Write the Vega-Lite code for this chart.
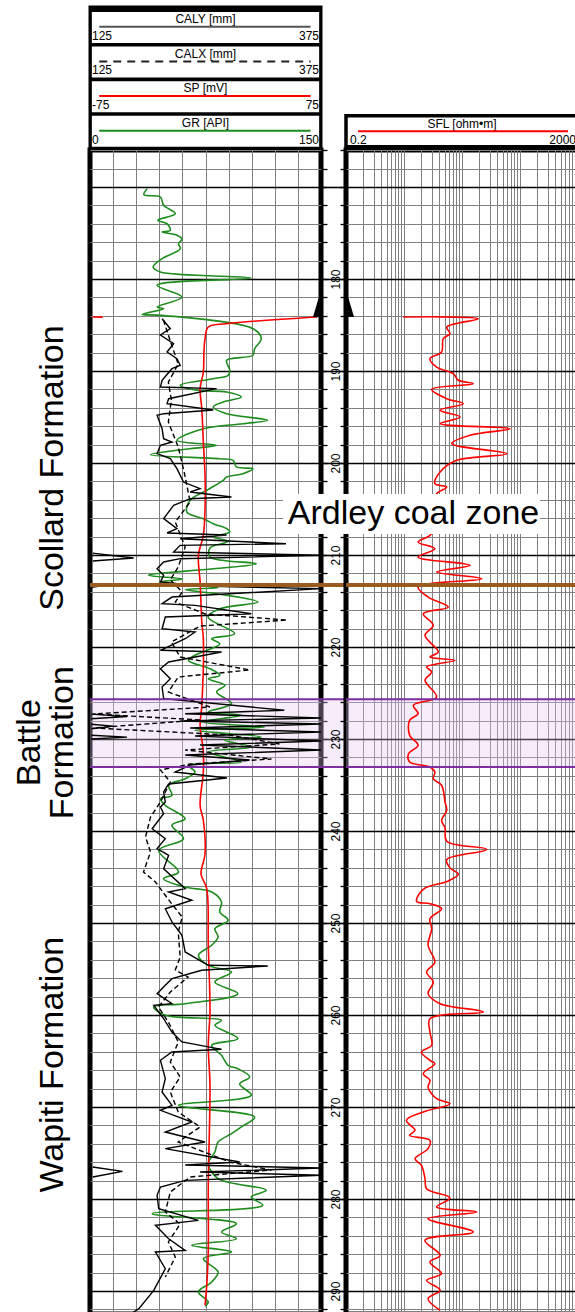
{
"$schema":"https://vega.github.io/schema/vega-lite/v6.json",
"background":"white",
"padding":{"left":0,"top":5,"right":0,"bottom":0},
"spacing":0,
"bounds":"flush",
"align":"each",
"columns":4,
"config":{"view":{"stroke":null},"font":"Liberation Sans","text":{"font":"Liberation Sans"},"axis":{"labelFont":"Liberation Sans"}},
"datasets":{
"gr":[{"d":170.2,"v":37.1},{"d":170.84,"v":35.0},{"d":171.09,"v":45.7},{"d":171.99,"v":47.8},{"d":172.9,"v":55.4},{"d":173.62,"v":44.0},{"d":173.99,"v":50.0},{"d":174.71,"v":52.1},{"d":174.89,"v":46.8},{"d":175.25,"v":56.5},{"d":175.68,"v":59.7},{"d":176.16,"v":57.5},{"d":176.71,"v":58.6},{"d":177.79,"v":46.8},{"d":178.7,"v":41.0},{"d":179.24,"v":45.7},{"d":179.89,"v":104.7},{"d":180.68,"v":43.6},{"d":181.96,"v":59.7},{"d":183.04,"v":43.6},{"d":183.23,"v":47.8},{"d":183.84,"v":33.9},{"d":183.95,"v":46.8},{"d":185.4,"v":105.8},{"d":186.49,"v":111.2},{"d":187.58,"v":106.9},{"d":188.29,"v":105.8},{"d":188.84,"v":88.7},{"d":189.92,"v":90.8},{"d":190.47,"v":89.7},{"d":190.84,"v":80.0},{"d":191.55,"v":58.6},{"d":192.1,"v":69.3},{"d":192.28,"v":88.7},{"d":192.83,"v":98.3},{"d":193.37,"v":86.5},{"d":193.91,"v":80.0},{"d":194.64,"v":88.7},{"d":195.36,"v":115.4},{"d":195.73,"v":99.3},{"d":196.27,"v":73.6},{"d":197.53,"v":56.5},{"d":198.08,"v":82.2},{"d":198.45,"v":65.0},{"d":199.1,"v":39.3},{"d":199.53,"v":84.3},{"d":199.71,"v":92.9},{"d":200.43,"v":95.1},{"d":200.62,"v":105.8},{"d":201.16,"v":99.3},{"d":201.52,"v":88.7},{"d":201.88,"v":86.5},{"d":202.97,"v":75.8},{"d":204.05,"v":65.0},{"d":205.33,"v":62.9},{"d":206.05,"v":73.6},{"d":206.6,"v":80.0},{"d":207.14,"v":88.7},{"d":207.5,"v":90.8},{"d":208.04,"v":80.0},{"d":208.51,"v":89.7},{"d":209.24,"v":77.9},{"d":210.22,"v":77.9},{"d":210.95,"v":108.0},{"d":211.5,"v":80.0},{"d":212.2,"v":38.0},{"d":212.6,"v":60.0},{"d":212.93,"v":45.0},{"d":213.3,"v":70.0},{"d":213.55,"v":83.0},{"d":213.75,"v":62.0},{"d":214.24,"v":83.2},{"d":215.11,"v":109.0},{"d":215.84,"v":84.3},{"d":216.74,"v":76.6},{"d":218.55,"v":94.0},{"d":219.1,"v":79.0},{"d":219.64,"v":84.3},{"d":220.9,"v":68.2},{"d":221.45,"v":63.9},{"d":222.36,"v":77.9},{"d":223.08,"v":84.3},{"d":223.45,"v":76.8},{"d":224.16,"v":87.6},{"d":224.89,"v":82.2},{"d":226.16,"v":91.9},{"d":227.07,"v":76.8},{"d":227.42,"v":98.3},{"d":228.15,"v":72.6},{"d":228.7,"v":113.3},{"d":229.05,"v":68.2},{"d":229.78,"v":111.2},{"d":230.14,"v":87.6},{"d":230.87,"v":104.7},{"d":231.41,"v":76.8},{"d":232.5,"v":98.3},{"d":232.86,"v":63.9},{"d":233.59,"v":68.2},{"d":234.32,"v":61.8},{"d":235.03,"v":51.1},{"d":236.12,"v":53.2},{"d":236.49,"v":45.7},{"d":237.21,"v":48.9},{"d":238.66,"v":61.8},{"d":239.38,"v":53.2},{"d":240.84,"v":60.7},{"d":242.1,"v":44.6},{"d":244.46,"v":57.5},{"d":245.18,"v":47.8},{"d":246.09,"v":61.8},{"d":246.63,"v":79.0},{"d":247.72,"v":85.4},{"d":248.8,"v":84.3},{"d":249.71,"v":89.7},{"d":250.62,"v":81.1},{"d":251.52,"v":83.2},{"d":252.42,"v":79.0},{"d":253.51,"v":70.4},{"d":254.6,"v":76.8},{"d":255.33,"v":91.9},{"d":256.41,"v":81.1},{"d":257.68,"v":96.1},{"d":258.77,"v":61.8},{"d":259.13,"v":41.4},{"d":260.03,"v":48.9},{"d":260.58,"v":85.4},{"d":261.12,"v":81.1},{"d":262.58,"v":96.1},{"d":263.29,"v":79.0},{"d":264.38,"v":85.4},{"d":265.47,"v":89.7},{"d":265.84,"v":96.1},{"d":266.74,"v":103.7},{"d":267.5,"v":97.2},{"d":268.73,"v":104.7},{"d":269.82,"v":57.5},{"d":271.09,"v":106.9},{"d":272.17,"v":98.3},{"d":272.9,"v":91.9},{"d":273.8,"v":83.2},{"d":274.89,"v":81.1},{"d":276.16,"v":76.8},{"d":277.79,"v":83.2},{"d":279.05,"v":114.4},{"d":279.78,"v":104.7},{"d":280.68,"v":112.2},{"d":281.6,"v":40.4},{"d":282.68,"v":95.1},{"d":283.59,"v":85.4},{"d":284.32,"v":95.1},{"d":285.03,"v":66.1},{"d":285.76,"v":91.9},{"d":286.49,"v":73.6},{"d":287.93,"v":83.2},{"d":289.02,"v":79.0},{"d":290.11,"v":70.4},{"d":291.2,"v":76.8},{"d":291.63,"v":74.7}],
"sp":[{"d":184.13,"v":72.6},{"d":184.86,"v":13.6},{"d":185.22,"v":1.8},{"d":186.49,"v":-0.3},{"d":187.93,"v":-1.0},{"d":190.11,"v":-1.4},{"d":191.92,"v":-3.5},{"d":194.1,"v":-2.4},{"d":197.72,"v":-1.4},{"d":201.34,"v":-0.3},{"d":204.97,"v":-0.3},{"d":207.86,"v":-1.4},{"d":210.03,"v":-4.6},{"d":212.93,"v":-3.5},{"d":217.28,"v":-2.4},{"d":219.1,"v":-1.4},{"d":226.34,"v":-2.4},{"d":228.51,"v":-3.5},{"d":231.41,"v":-1.4},{"d":233.59,"v":-1.4},{"d":237.21,"v":-3.5},{"d":238.84,"v":-1.4},{"d":242.5,"v":-0.3},{"d":244.67,"v":-2.9},{"d":246.27,"v":0.8},{"d":252.42,"v":1.8},{"d":259.67,"v":2.9},{"d":263.29,"v":1.8},{"d":267.64,"v":2.9},{"d":278.51,"v":1.8},{"d":285.76,"v":1.8},{"d":289.38,"v":0.8},{"d":291.55,"v":-0.3}],
"spw":[{"d":184.13,"v":-73.3},{"d":184.14,"v":-66.8}],
"caly":[{"d":184.32,"v":203.0},{"d":185.4,"v":211.9},{"d":186.09,"v":201.2},{"d":187.03,"v":215.5},{"d":187.93,"v":208.4},{"d":188.66,"v":219.1},{"d":189.38,"v":222.6},{"d":189.75,"v":213.7},{"d":191.01,"v":203.0},{"d":191.74,"v":201.2},{"d":191.92,"v":262.0},{"d":193.01,"v":210.1},{"d":193.55,"v":208.4},{"d":194.24,"v":258.4},{"d":194.64,"v":204.7},{"d":194.82,"v":197.6},{"d":196.27,"v":203.0},{"d":197.36,"v":204.7},{"d":197.72,"v":213.7},{"d":198.08,"v":201.2},{"d":198.99,"v":197.6},{"d":199.53,"v":211.9},{"d":200.62,"v":219.1},{"d":202.07,"v":226.2},{"d":202.79,"v":244.1},{"d":203.15,"v":233.4},{"d":203.7,"v":278.1},{"d":203.88,"v":233.4},{"d":204.6,"v":215.5},{"d":206.05,"v":204.7},{"d":207.14,"v":219.1},{"d":207.61,"v":208.4},{"d":207.83,"v":272.8},{"d":208.23,"v":222.6},{"d":208.77,"v":337.1},{"d":208.95,"v":222.6},{"d":209.67,"v":215.5},{"d":210.03,"v":375},{"d":210.4,"v":222.6},{"d":210.76,"v":204.7},{"d":211.49,"v":197.6},{"d":212.21,"v":204.7},{"d":212.93,"v":201.2},{"d":213.37,"v":244.1},{"d":213.66,"v":375},{"d":214.57,"v":213.7},{"d":215.29,"v":203.0},{"d":215.47,"v":238.7},{"d":216.38,"v":299.6},{"d":216.74,"v":206.5},{"d":218.01,"v":203.0},{"d":218.37,"v":238.7},{"d":219.1,"v":228.0},{"d":220.36,"v":201.2},{"d":220.54,"v":267.4},{"d":221.63,"v":210.1},{"d":222.36,"v":201.2},{"d":223.45,"v":211.9},{"d":224.35,"v":203.0},{"d":225.62,"v":204.7},{"d":226.88,"v":335.3},{"d":227.25,"v":228.0},{"d":227.72,"v":375},{"d":228.04,"v":222.6},{"d":228.37,"v":375},{"d":228.8,"v":233.4},{"d":229.24,"v":375},{"d":229.67,"v":238.7},{"d":230.22,"v":375},{"d":230.65,"v":244.1},{"d":231.2,"v":375},{"d":231.74,"v":228.0},{"d":232.28,"v":297.8},{"d":232.83,"v":233.4},{"d":233.59,"v":217.3},{"d":234.24,"v":273.1},{"d":234.89,"v":210.1},{"d":235.76,"v":204.7},{"d":236.85,"v":206.5},{"d":237.39,"v":201.2},{"d":238.12,"v":204.7},{"d":239.75,"v":192.3},{"d":240.84,"v":206.5},{"d":241.92,"v":197.6},{"d":242.64,"v":210.1},{"d":244.1,"v":204.7},{"d":246.27,"v":228.0},{"d":246.63,"v":210.1},{"d":247.53,"v":235.2},{"d":248.45,"v":206.5},{"d":249.89,"v":213.7},{"d":251.34,"v":224.5},{"d":253.15,"v":228.0},{"d":254.6,"v":253.0},{"d":254.67,"v":317.4},{"d":255.14,"v":245.9},{"d":256.05,"v":213.7},{"d":256.77,"v":206.5},{"d":257.68,"v":197.6},{"d":258.77,"v":213.7},{"d":258.95,"v":194.0},{"d":260.4,"v":204.7},{"d":261.85,"v":213.7},{"d":262.93,"v":224.5},{"d":263.73,"v":267.4},{"d":264.02,"v":213.7},{"d":264.92,"v":201.2},{"d":266.92,"v":206.5},{"d":268.37,"v":203.0},{"d":269.82,"v":213.7},{"d":270.36,"v":201.2},{"d":271.63,"v":235.2},{"d":272.72,"v":206.5},{"d":273.8,"v":249.5},{"d":274.53,"v":206.5},{"d":275.98,"v":287.0},{"d":276.3,"v":228.0},{"d":276.63,"v":375},{"d":277.07,"v":244.1},{"d":277.42,"v":375},{"d":277.97,"v":228.0},{"d":278.7,"v":201.2},{"d":279.6,"v":197.6},{"d":281.05,"v":199.4},{"d":282.32,"v":242.3},{"d":282.86,"v":195.8},{"d":284.32,"v":210.1},{"d":285.58,"v":228.0},{"d":285.76,"v":195.8},{"d":287.58,"v":206.5},{"d":289.93,"v":194.0},{"d":291.92,"v":177.9},{"d":292.5,"v":169.0}],
"calyw":[{"seg":"a","d":209.8,"v":127.9},{"seg":"a","d":210.33,"v":172.2},{"seg":"a","d":210.65,"v":127.9},{"seg":"b","d":213.3,"v":126.5},{"seg":"b","d":213.4,"v":134},{"seg":"b","d":213.5,"v":126.5},{"seg":"c","d":227.3,"v":126.5},{"seg":"c","d":227.55,"v":165},{"seg":"c","d":227.8,"v":126.5},{"seg":"d","d":228.4,"v":126.5},{"seg":"d","d":228.6,"v":150},{"seg":"d","d":228.9,"v":126.5},{"seg":"e","d":229.6,"v":126.5},{"seg":"e","d":229.8,"v":165},{"seg":"e","d":230.0,"v":126.5},{"seg":"f","d":276.52,"v":127.9},{"seg":"f","d":277.0,"v":160.1},{"seg":"f","d":277.61,"v":127.9}],
"calx":[{"d":184.46,"v":204.4},{"d":187.39,"v":214.1},{"d":189.24,"v":220.5},{"d":191.2,"v":209.8},{"d":193.15,"v":213.1},{"d":195.54,"v":209.8},{"d":198.26,"v":220.5},{"d":200.98,"v":226.9},{"d":204.24,"v":233.4},{"d":206.41,"v":217.3},{"d":209.13,"v":228.0},{"d":211.3,"v":220.5},{"d":212.71,"v":211.9},{"d":214.02,"v":224.8},{"d":215.11,"v":217.3},{"d":216.41,"v":249.5},{"d":217.07,"v":338.5},{"d":217.72,"v":244.1},{"d":219.46,"v":213.1},{"d":221.09,"v":222.6},{"d":222.5,"v":297.8},{"d":223.26,"v":220.5},{"d":224.89,"v":209.8},{"d":226.52,"v":254.8},{"d":227.28,"v":128.2},{"d":227.93,"v":244.1},{"d":228.8,"v":128.2},{"d":229.57,"v":276.3},{"d":230.54,"v":330.0},{"d":231.2,"v":228.0},{"d":232.17,"v":321.4},{"d":232.72,"v":233.4},{"d":233.37,"v":201.2},{"d":234.67,"v":211.9},{"d":236.85,"v":201.2},{"d":238.48,"v":190.5},{"d":240.65,"v":185.1},{"d":242.28,"v":190.5},{"d":244.46,"v":182.9},{"d":245.54,"v":195.8},{"d":247.72,"v":211.9},{"d":249.35,"v":224.8},{"d":250.98,"v":220.5},{"d":253.7,"v":222.6},{"d":255.11,"v":217.3},{"d":255.87,"v":231.2},{"d":257.5,"v":211.9},{"d":259.13,"v":199.0},{"d":260.76,"v":209.8},{"d":262.93,"v":220.5},{"d":265.11,"v":211.9},{"d":266.74,"v":222.6},{"d":268.37,"v":211.9},{"d":270.54,"v":220.5},{"d":272.17,"v":244.1},{"d":273.8,"v":220.5},{"d":275.98,"v":276.3},{"d":276.85,"v":321.4},{"d":277.61,"v":233.4},{"d":279.24,"v":211.9},{"d":281.41,"v":206.5},{"d":282.72,"v":222.6},{"d":284.67,"v":209.8},{"d":286.3,"v":217.3},{"d":288.48,"v":206.5}],
"sfl":[{"d":184.13,"v":1.94},{"d":184.32,"v":38.2},{"d":185.22,"v":10.9},{"d":185.95,"v":12.4},{"d":186.49,"v":9.5},{"d":187.93,"v":8.9},{"d":188.66,"v":5.6},{"d":189.57,"v":7.3},{"d":190.29,"v":14.2},{"d":191.01,"v":17.3},{"d":191.38,"v":31.3},{"d":191.99,"v":6.0},{"d":193.01,"v":10.9},{"d":193.55,"v":21.0},{"d":194.27,"v":8.4},{"d":195.0,"v":18.5},{"d":195.73,"v":8.4},{"d":196.27,"v":134.5},{"d":196.99,"v":27.5},{"d":197.9,"v":13.3},{"d":198.99,"v":118},{"d":199.71,"v":16.2},{"d":200.98,"v":8.4},{"d":202.25,"v":6.8},{"d":202.61,"v":10.9},{"d":203.34,"v":7.3},{"d":204.78,"v":6.1},{"d":206.41,"v":7.7},{"d":207.86,"v":5.6},{"d":208.59,"v":3.5},{"d":209.32,"v":6.8},{"d":210.22,"v":3.5},{"d":211.12,"v":27.5},{"d":211.85,"v":7.3},{"d":212.58,"v":43.7},{"d":213.48,"v":3.5},{"d":214.57,"v":5.2},{"d":215.65,"v":11.6},{"d":216.38,"v":4.3},{"d":217.64,"v":6.4},{"d":218.73,"v":4.6},{"d":220.54,"v":7.8},{"d":221.09,"v":5.6},{"d":221.45,"v":15.1},{"d":222.17,"v":4.9},{"d":222.72,"v":6.0},{"d":223.62,"v":4.6},{"d":225.43,"v":7.3},{"d":226.34,"v":2.9},{"d":227.25,"v":3.5},{"d":227.97,"v":2.5},{"d":229.6,"v":2.5},{"d":230.68,"v":3.5},{"d":231.6,"v":2.4},{"d":232.5,"v":2.5},{"d":233.04,"v":5.6},{"d":233.59,"v":6.8},{"d":234.32,"v":6.4},{"d":235.03,"v":8.9},{"d":236.85,"v":10.2},{"d":237.75,"v":10.9},{"d":238.84,"v":8.9},{"d":239.66,"v":10.2},{"d":241.11,"v":10.9},{"d":242.01,"v":53.3},{"d":243.1,"v":10.9},{"d":244.01,"v":12.4},{"d":244.71,"v":17.3},{"d":245.43,"v":11.6},{"d":246.34,"v":4.3},{"d":247.64,"v":3.3},{"d":247.9,"v":5.6},{"d":248.45,"v":8.9},{"d":249.53,"v":5.6},{"d":250.62,"v":6.0},{"d":252.42,"v":5.2},{"d":254.24,"v":6.8},{"d":255.33,"v":4.9},{"d":256.41,"v":6.4},{"d":257.68,"v":5.2},{"d":258.77,"v":8.4},{"d":259.67,"v":46.6},{"d":260.4,"v":5.6},{"d":261.85,"v":5.6},{"d":263.29,"v":6.0},{"d":264.02,"v":4.0},{"d":264.92,"v":5.6},{"d":265.29,"v":6.8},{"d":266.38,"v":4.3},{"d":267.1,"v":5.6},{"d":267.83,"v":5.2},{"d":269.1,"v":7.3},{"d":269.64,"v":12.4},{"d":270.54,"v":4.3},{"d":271.45,"v":2.2},{"d":272.53,"v":3.1},{"d":273.08,"v":2.5},{"d":273.62,"v":5.6},{"d":274.53,"v":5.2},{"d":275.62,"v":3.1},{"d":276.34,"v":4.0},{"d":277.79,"v":4.6},{"d":278.88,"v":4.9},{"d":279.89,"v":12.4},{"d":280.87,"v":7.3},{"d":281.41,"v":35.8},{"d":282.14,"v":5.2},{"d":283.59,"v":31.3},{"d":284.49,"v":4.6},{"d":286.12,"v":8.4},{"d":286.85,"v":5.6},{"d":288.12,"v":8.9},{"d":288.84,"v":4.9},{"d":289.92,"v":8.4},{"d":290.84,"v":5.2},{"d":292.1,"v":8.4}],
"trisL":[{"d":181.2,"a":150,"b":150},{"d":184.13,"a":144.8,"b":150}],
"trisR":[{"d":181.2,"a":0.2,"b":0.2},{"d":184.13,"a":0.2,"b":0.275}],
"markers":[{"name":"Ardley coal zone base","d":213.26,"kind":"brown"},{"name":"Battle top","d":225.68,"kind":"purple"},{"name":"Battle base","d":233.04,"kind":"purple"}],
"band":[{"top":225.68,"bot":233.04}],
"formations":[{"label":"Scollard Formation","d":200.55},{"label":"Battle\nFormation","d":230.4},{"label":"Wapiti Formation","d":265.4}],
"ardley":[{"label":"Ardley coal zone","d":205.55}],
"blank":[{"t":""}],
"headL":[{"curve":"CALY [mm]","lo":"125","hi":"375"},{"curve":"CALX [mm]","lo":"125","hi":"375"},{"curve":"SP [mV]","lo":"-75","hi":"75"},{"curve":"GR [API]","lo":"0","hi":"150"}],
"headR":[{"curve":"SFL [ohm•m]","lo":"0.2","hi":"2000"}]
},
"concat":[
{"width":90,"height":143,"data":{"name":"blank"},"mark":{"type":"text"},"encoding":{"text":{"field":"t"}}},
{"width":231,"height":143,"view":{"fill":"black","stroke":"black","strokeWidth":3},
  "data":{"name":"headL"},
  "layer":[
   {"mark":{"type":"bar","fill":"white"},
    "encoding":{"y":{"field":"curve","type":"nominal","sort":null,"scale":{"domain":["CALY [mm]","CALX [mm]","SP [mV]","GR [API]"],"paddingInner":0.104,"paddingOuter":0.118,"align":0.61},"axis":null},
     "x":{"datum":0.008,"scale":{"domain":[0,1]},"axis":null},"x2":{"datum":0.992}}},
   {"mark":{"type":"text","fontSize":12,"align":"center","baseline":"middle","color":"black"},
    "encoding":{"y":{"field":"curve","type":"nominal","sort":null,"bandPosition":0.23},"x":{"datum":0.5},"text":{"field":"curve"}}},
   {"transform":[{"filter":"datum.curve === 'CALY [mm]'"}],"mark":{"type":"rule","color":"#555555","strokeWidth":2},
    "encoding":{"y":{"field":"curve","type":"nominal","sort":null,"bandPosition":0.48},"x":{"datum":0.04},"x2":{"datum":0.955}}},
   {"transform":[{"filter":"datum.curve === 'CALX [mm]'"}],"mark":{"type":"rule","color":"#222222","strokeWidth":2,"strokeDash":[8,6]},
    "encoding":{"y":{"field":"curve","type":"nominal","sort":null,"bandPosition":0.48},"x":{"datum":0.04},"x2":{"datum":0.955}}},
   {"transform":[{"filter":"datum.curve === 'SP [mV]'"}],"mark":{"type":"rule","color":"#ff0000","strokeWidth":2},
    "encoding":{"y":{"field":"curve","type":"nominal","sort":null,"bandPosition":0.48},"x":{"datum":0.04},"x2":{"datum":0.955}}},
   {"transform":[{"filter":"datum.curve === 'GR [API]'"}],"mark":{"type":"rule","color":"#1e8c1e","strokeWidth":2},
    "encoding":{"y":{"field":"curve","type":"nominal","sort":null,"bandPosition":0.48},"x":{"datum":0.04},"x2":{"datum":0.955}}},
   {"mark":{"type":"text","fontSize":12,"align":"left","baseline":"middle","dx":2,"color":"black"},
    "encoding":{"y":{"field":"curve","type":"nominal","sort":null,"bandPosition":0.77},"x":{"datum":0},"text":{"field":"lo"}}},
   {"mark":{"type":"text","fontSize":12,"align":"right","baseline":"middle","dx":-2,"color":"black"},
    "encoding":{"y":{"field":"curve","type":"nominal","sort":null,"bandPosition":0.77},"x":{"datum":1},"text":{"field":"hi"}}}
  ]},
{"width":25,"height":143,"data":{"name":"blank"},"mark":{"type":"text"},"encoding":{"text":{"field":"t"}}},
{"width":232,"height":143,"data":{"name":"headR"},
  "layer":[
   {"mark":{"type":"bar","fill":"white","stroke":"black","strokeWidth":3.5},
    "encoding":{"y":{"field":"curve","type":"nominal","sort":null,"scale":{"domain":["_1","_2","_3","SFL [ohm•m]"],"paddingInner":0.104,"paddingOuter":0.118,"align":0.61},"axis":null},
     "x":{"datum":0,"scale":{"domain":[0,1]},"axis":null},"x2":{"datum":1.05}}},
   {"mark":{"type":"text","fontSize":12,"align":"center","baseline":"middle","color":"black"},
    "encoding":{"y":{"field":"curve","type":"nominal","sort":null,"bandPosition":0.25},"x":{"datum":0.5},"text":{"field":"curve"}}},
   {"mark":{"type":"rule","color":"#ff0000","strokeWidth":2},
    "encoding":{"y":{"field":"curve","type":"nominal","sort":null,"bandPosition":0.5},"x":{"datum":0.052},"x2":{"datum":0.957}}},
   {"mark":{"type":"text","fontSize":12,"align":"left","baseline":"middle","dx":4,"color":"black"},
    "encoding":{"y":{"field":"curve","type":"nominal","sort":null,"bandPosition":0.78},"x":{"datum":0},"text":{"field":"lo"}}},
   {"mark":{"type":"text","fontSize":12,"align":"right","baseline":"middle","dx":-2,"color":"black"},
    "encoding":{"y":{"field":"curve","type":"nominal","sort":null,"bandPosition":0.78},"x":{"datum":1},"text":{"field":"hi"}}}
  ]},
{"width":90,"height":1164,"data":{"name":"formations"},
 "layer":[
  {"transform":[{"filter":"datum.d < 210 || datum.d > 250"}],
   "mark":{"type":"text","angle":270,"fontSize":34,"align":"center","baseline":"middle","color":"black"},
   "encoding":{"y":{"field":"d","type":"quantitative","scale":{"domain":[165.978,292.5],"reverse":true,"nice":false,"zero":false},"axis":null},
    "x":{"datum":0.59,"scale":{"domain":[0,1]},"axis":null},
    "text":{"field":"label"}}},
  {"transform":[{"filter":"datum.d > 210 && datum.d < 250"}],
   "mark":{"type":"text","angle":270,"fontSize":34,"align":"center","baseline":"middle","lineBreak":"\n","lineHeight":33,"color":"black"},
   "encoding":{"y":{"field":"d","type":"quantitative"},
    "x":{"datum":0.33},
    "text":{"field":"label"}}}
 ]},
{"width":231,"height":1164,"view":{"stroke":"black","strokeWidth":5},
  "resolve":{"scale":{"x":"independent"}},
  "layer":[
   {"data":{"name":"band"},"mark":{"type":"rect","fill":"#e6c3ee","fillOpacity":0.32},
    "encoding":{"y":{"field":"top","type":"quantitative","scale":{"domain":[165.978,292.5],"reverse":true,"nice":false,"zero":false},
      "axis":{"orient":"right","tickCount":1000,"values":[166,168,170,172,174,176,178,180,182,184,186,188,190,192,194,196,198,200,202,204,206,208,210,212,214,216,218,220,222,224,226,228,230,232,234,236,238,240,242,244,246,248,250,252,254,256,258,260,262,264,266,268,270,272,274,276,278,280,282,284,286,288,290,292],
       "grid":true,"gridColor":{"condition":{"test":"datum.value % 10 === 0","value":"#000000"},"value":"#808080"},"gridWidth":{"condition":{"test":"datum.value % 10 === 0","value":1.6},"value":1},
       "labels":false,"ticks":true,"tickSize":6,"tickColor":"#000000","tickWidth":1.3,"domain":false,"title":null}},
     "y2":{"field":"bot"}}},
   {"data":{"name":"gr"},"mark":{"type":"line","color":"#1e8c1e","strokeWidth":1.6,"interpolate":"catmull-rom"},
    "encoding":{"y":{"field":"d","type":"quantitative"},
     "x":{"field":"v","type":"quantitative","scale":{"domain":[0,150],"nice":false,"zero":false},
      "axis":{"tickCount":1000,"values":[15,30,45,60,75,90,105,120,135],"grid":true,"gridColor":"#808080","gridWidth":1,"labels":false,"ticks":false,"domain":false,"title":null}},
     "order":{"field":"d","type":"quantitative"}}},
   {"data":{"name":"sp"},"mark":{"type":"line","color":"#ff0000","strokeWidth":1.6,"interpolate":"catmull-rom"},
    "encoding":{"y":{"field":"d","type":"quantitative"},
     "x":{"field":"v","type":"quantitative","scale":{"domain":[-75,75],"nice":false,"zero":false},"axis":null},
     "order":{"field":"d","type":"quantitative"}}},
   {"data":{"name":"spw"},"mark":{"type":"line","color":"#ff0000","strokeWidth":1.6},
    "encoding":{"y":{"field":"d","type":"quantitative"},
     "x":{"field":"v","type":"quantitative","scale":{"domain":[-75,75],"nice":false,"zero":false},"axis":null},
     "order":{"field":"d","type":"quantitative"}}},
   {"data":{"name":"calx"},"mark":{"type":"line","color":"#000000","strokeWidth":1.4,"strokeDash":[5,3]},
    "encoding":{"y":{"field":"d","type":"quantitative"},
     "x":{"field":"v","type":"quantitative","scale":{"domain":[125,375],"nice":false,"zero":false},"axis":null},
     "order":{"field":"d","type":"quantitative"}}},
   {"data":{"name":"caly"},"mark":{"type":"line","color":"#000000","strokeWidth":1.4},
    "encoding":{"y":{"field":"d","type":"quantitative"},
     "x":{"field":"v","type":"quantitative","scale":{"domain":[125,375],"nice":false,"zero":false},"axis":null},
     "order":{"field":"d","type":"quantitative"}}},
   {"data":{"name":"calyw"},"mark":{"type":"line","color":"#000000","strokeWidth":1.4},
    "encoding":{"y":{"field":"d","type":"quantitative"},
     "x":{"field":"v","type":"quantitative","scale":{"domain":[125,375],"nice":false,"zero":false},"axis":null},
     "detail":{"field":"seg","type":"nominal"},
     "order":{"field":"d","type":"quantitative"}}},
   {"data":{"name":"trisL"},"mark":{"type":"area","orient":"horizontal","color":"#000000"},
    "encoding":{"y":{"field":"d","type":"quantitative"},
     "x":{"field":"a","type":"quantitative","scale":{"domain":[0,150],"nice":false,"zero":false},"axis":null,"stack":null},
     "x2":{"field":"b"}}},
   {"data":{"name":"markers"},"transform":[{"filter":"datum.kind === 'brown'"}],"mark":{"type":"rule","color":"#9a5b1e","strokeWidth":4},
    "encoding":{"y":{"field":"d","type":"quantitative"}}},
   {"data":{"name":"markers"},"transform":[{"filter":"datum.kind === 'purple'"}],"mark":{"type":"rule","color":"#7b2fa3","strokeWidth":2},
    "encoding":{"y":{"field":"d","type":"quantitative"}}}
  ]},
{"width":25,"height":1164,
 "layer":[
  {"data":{"name":"band"},"mark":{"type":"rect","fill":"#e6c3ee","fillOpacity":0.32},
   "encoding":{"y":{"field":"top","type":"quantitative","scale":{"domain":[165.978,292.5],"reverse":true,"nice":false,"zero":false},
     "axis":{"tickCount":1000,"values":[170,180,190,200,210,220,230,240,250,260,270,280,290],"grid":true,"gridColor":"#000000","gridWidth":1.6,"labels":false,"ticks":false,"domain":false,"title":null}},
    "y2":{"field":"bot"}}},
  {"data":{"name":"markers"},"transform":[{"filter":"datum.kind === 'brown'"}],"mark":{"type":"rule","color":"#9a5b1e","strokeWidth":4},
   "encoding":{"y":{"field":"d","type":"quantitative"}}},
  {"data":{"name":"markers"},"transform":[{"filter":"datum.kind === 'purple'"}],"mark":{"type":"rule","color":"#7b2fa3","strokeWidth":2},
   "encoding":{"y":{"field":"d","type":"quantitative"}}}
 ]},
{"width":232,"height":1164,"view":{"stroke":"black","strokeWidth":5},
  "layer":[
   {"data":{"name":"band"},"mark":{"type":"rect","fill":"#e6c3ee","fillOpacity":0.32},
    "encoding":{"y":{"field":"top","type":"quantitative","scale":{"domain":[165.978,292.5],"reverse":true,"nice":false,"zero":false},
      "axis":{"orient":"left","tickCount":1000,"values":[166,168,170,172,174,176,178,180,182,184,186,188,190,192,194,196,198,200,202,204,206,208,210,212,214,216,218,220,222,224,226,228,230,232,234,236,238,240,242,244,246,248,250,252,254,256,258,260,262,264,266,268,270,272,274,276,278,280,282,284,286,288,290,292],
       "grid":true,"gridColor":{"condition":{"test":"datum.value % 10 === 0","value":"#000000"},"value":"#808080"},"gridWidth":{"condition":{"test":"datum.value % 10 === 0","value":1.6},"value":1},
       "ticks":true,"tickSize":6,"tickColor":"#000000","tickWidth":1.3,"domain":false,
       "labels":true,"labelExpr":"datum.value % 10 === 0 && datum.value >= 180 ? datum.value : ''","labelAngle":270,"labelAlign":"center","labelBaseline":"middle","labelPadding":5,"labelFontSize":12,"labelColor":"#000000","labelOverlap":false,"labelBound":false,"labelFlush":false,"title":null}},
     "y2":{"field":"bot"}}},
   {"data":{"name":"sfl"},"mark":{"type":"line","color":"#ff0000","strokeWidth":1.6,"interpolate":"catmull-rom"},
    "encoding":{"y":{"field":"d","type":"quantitative"},
     "x":{"field":"v","type":"quantitative","scale":{"type":"log","domain":[0.2,2000],"nice":false},
      "axis":{"tickCount":1000,"values":[0.4,0.6,0.8,1,1.2,1.4,1.6,1.8,2,4,6,8,10,12,14,16,18,20,40,60,80,100,120,140,160,180,200,400,600,800,1000,1200,1400,1600,1800],"grid":true,"gridColor":"#808080","gridWidth":1,"labels":false,"ticks":false,"domain":false,"title":null}},
     "order":{"field":"d","type":"quantitative"}}},
   {"data":{"name":"trisR"},"mark":{"type":"area","orient":"horizontal","color":"#000000"},
    "encoding":{"y":{"field":"d","type":"quantitative"},
     "x":{"field":"a","type":"quantitative","stack":null},
     "x2":{"field":"b"}}},
   {"data":{"name":"markers"},"transform":[{"filter":"datum.kind === 'brown'"}],"mark":{"type":"rule","color":"#9a5b1e","strokeWidth":4},
    "encoding":{"y":{"field":"d","type":"quantitative"}}},
   {"data":{"name":"markers"},"transform":[{"filter":"datum.kind === 'purple'"}],"mark":{"type":"rule","color":"#7b2fa3","strokeWidth":2},
    "encoding":{"y":{"field":"d","type":"quantitative"}}},
   {"data":{"name":"ardley"},"mark":{"type":"rect","fill":"white"},
    "encoding":{"y":{"datum":203.37},"y2":{"datum":207.72},"x":{"datum":0.0164},"x2":{"datum":442.6}}},
   {"data":{"name":"ardley"},"mark":{"type":"text","fontSize":34,"align":"center","baseline":"middle","color":"black"},
    "encoding":{"y":{"field":"d","type":"quantitative"},"x":{"datum":2.92},"text":{"field":"label"}}}
  ]}
]
}
